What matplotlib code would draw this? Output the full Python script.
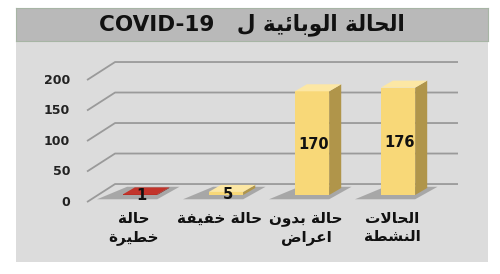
import numpy as np
import matplotlib
matplotlib.use("Agg")
from matplotlib import pyplot as plt
from matplotlib.patches import Polygon, Rectangle

# data (left to right as in the picture)
categories = ["حالة\nخطيرة", "حالة خفيفة", "حالة بدون\nاعراض", "الحالات\nالنشطة"]
values = [1, 5, 170, 176]
bar_colors = ["red", "yellow", "yellow", "yellow"]
yticks = [0, 50, 100, 150, 200]

# arabic presentation forms: iso, fin, ini, med (right-joining letters only iso, fin)
FORMS = {
    "ا": (0xFE8D, 0xFE8E), "ة": (0xFE93, 0xFE94), "د": (0xFEA9, 0xFEAA),
    "ر": (0xFEAD, 0xFEAE), "و": (0xFEED, 0xFEEE),
    "ب": (0xFE8F, 0xFE90, 0xFE91, 0xFE92), "ت": (0xFE95, 0xFE96, 0xFE97, 0xFE98),
    "ح": (0xFEA1, 0xFEA2, 0xFEA3, 0xFEA4), "خ": (0xFEA5, 0xFEA6, 0xFEA7, 0xFEA8),
    "ش": (0xFEB5, 0xFEB6, 0xFEB7, 0xFEB8), "ض": (0xFEBD, 0xFEBE, 0xFEBF, 0xFEC0),
    "ط": (0xFEC1, 0xFEC2, 0xFEC3, 0xFEC4), "ع": (0xFEC9, 0xFECA, 0xFECB, 0xFECC),
    "ف": (0xFED1, 0xFED2, 0xFED3, 0xFED4), "ل": (0xFEDD, 0xFEDE, 0xFEDF, 0xFEE0),
    "ن": (0xFEE5, 0xFEE6, 0xFEE7, 0xFEE8), "ي": (0xFEF1, 0xFEF2, 0xFEF3, 0xFEF4),
    "ئ": (0xFE89, 0xFE8A, 0xFE8B, 0xFE8C),
}


def ar_line(s):
    # crude shaping + reversal so matplotlib shows arabic right to left
    out = []
    i = 0
    while i < len(s):
        c = s[i]
        if c not in FORMS:
            out.append(c)
            i += 1
            continue
        prev = s[i - 1] if i > 0 else " "
        join_prev = prev in FORMS and len(FORMS[prev]) == 4
        if c == "ل" and i + 1 < len(s) and s[i + 1] == "ا":
            out.append(chr(0xFEFC if join_prev else 0xFEFB))
            i += 2
            continue
        nxt = s[i + 1] if i + 1 < len(s) else " "
        f = FORMS[c]
        join_next = len(f) == 4 and nxt in FORMS
        if join_prev and join_next:
            out.append(chr(f[3]))
        elif join_prev:
            out.append(chr(f[1]))
        elif join_next:
            out.append(chr(f[2]))
        else:
            out.append(chr(f[0]))
        i += 1
    return "".join(out[::-1])


def ar(s):
    return "\n".join(ar_line(l) for l in s.split("\n"))


plt.rcParams["font.family"] = ["DejaVu Sans"]

fig = plt.figure(figsize=(5, 2.74), dpi=100)
fig.patch.set_facecolor("white")

ax = fig.add_axes([0.032, 0.0438, 0.944, 0.8029])
ax.set_facecolor("#dcdcdc")
ax.set_xlim(-1.442, 4.047)
ax.set_ylim(-109.8, 250.8)
for s in ax.spines.values():
    s.set_visible(False)
ax.set_xticks([])
ax.set_yticks([])

# fake 3d: floor in front of the bars, back wall behind
front_y = -11.5
wall_dx, wall_dy = 0.326, 29.5
x_front = -0.616
x_right = 3.698
grid_c = "#9a9a9a"
for t in yticks:
    ax.plot([x_front, x_front + wall_dx, x_right], [t + front_y, t + front_y + wall_dy, t + front_y + wall_dy],
            color=grid_c, lw=1.3, solid_capstyle="butt", zorder=1)
    ax.text(-0.814, t + front_y, str(t), ha="right", va="center", fontsize=9, fontweight="bold", color="#222222")

palette = {
    "yellow": ("#f8d878", "#b0954a", "#fce7a4"),
    "red": ("#b52a22", "#7e1a15", "#c2342b"),
}
w = 0.2
bdx, bdy = 0.14, 11.5
for i, (v, c) in enumerate(zip(values, bar_colors)):
    front, side, top = palette[c]
    # shadow on the floor
    ax.add_patch(Polygon([(i - w - 0.3, -7), (i + w, -7), (i + w + bdx + 0.12, bdy + 2), (i - w + 0.05, bdy + 2)],
                         closed=True, facecolor="#7d7d7d", alpha=0.55, lw=0, zorder=2))
    ax.add_patch(Rectangle((i - w, 0), 2 * w, v, facecolor=front, lw=0, zorder=3))
    ax.add_patch(Polygon([(i + w, 0), (i + w + bdx, bdy), (i + w + bdx, v + bdy), (i + w, v)],
                         closed=True, facecolor=side, lw=0, zorder=3))
    ax.add_patch(Polygon([(i - w, v), (i + w, v), (i + w + bdx, v + bdy), (i - w + bdx, v + bdy)],
                         closed=True, facecolor=top, lw=0, zorder=3))
    ax.text(i + 0.02, v / 2 - 2, str(v), ha="center", va="center", fontsize=10.5, fontweight="bold",
            color="#111111", zorder=4)
    ax.text(i - 0.07, -26, ar(categories[i]), ha="center", va="top", fontsize=11, fontweight="bold",
            linespacing=1.3, color="#111111", zorder=4)

# title band
tax = fig.add_axes([0.032, 1 - 41 / 274, 0.944, 33 / 274])
tax.set_facecolor("#b9b9b9")
tax.set_xticks([])
tax.set_yticks([])
for s in tax.spines.values():
    s.set_color("#a7b5a5")
tax.text(0.5, 0.5, "COVID-19   " + ar("الحالة الوبائية ل"), ha="center", va="center",
         fontsize=15.5, fontweight="bold", color="#111111", transform=tax.transAxes)

fig.savefig("out.png", dpi=100, facecolor="white")
